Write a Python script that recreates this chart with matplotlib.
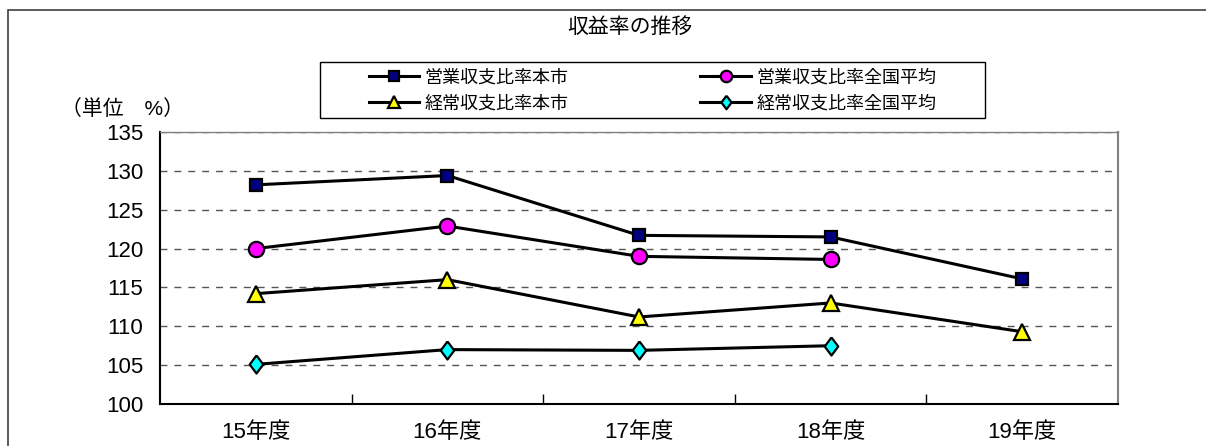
import numpy as np
import matplotlib
matplotlib.use('Agg')
import matplotlib.pyplot as plt
from matplotlib import font_manager
from matplotlib.patches import Rectangle

# data
years = ['15年度', '16年度', '17年度', '18年度', '19年度']
eigyo_city = [128.2, 129.4, 121.7, 121.5, 116.1]
eigyo_avg = [120.0, 122.9, 119.0, 118.6, np.nan]
keijo_city = [114.2, 116.0, 111.2, 113.0, 109.3]
keijo_avg = [105.1, 107.0, 106.9, 107.5, np.nan]
y_ticks = [100, 105, 110, 115, 120, 125, 130, 135]

names = {f.name for f in font_manager.fontManager.ttflist}
latin = 'Liberation Sans Narrow' if 'Liberation Sans Narrow' in names else 'Liberation Sans'
plt.rcParams['font.family'] = [latin, 'Noto Sans CJK JP', 'DejaVu Sans']

W, H = 1206, 446
fig = plt.figure(figsize=(W / 100, H / 100), dpi=100)

# outer chart border (right/bottom edges fall outside the picture)
fig.patches.append(Rectangle((8 / W, -0.1), 1.2, 1 - 10 / H + 0.1,
                             transform=fig.transFigure, fill=False,
                             ec='#404040', lw=1.2))

ax = fig.add_axes([160 / W, 1 - 404 / H, (1118 - 160) / W, (404 - 132) / H])
x = np.arange(len(years))

diamond = [(0, 1), (0.75, 0), (0, -1), (-0.75, 0), (0, 1)]
series = [
    ('営業収支比率本市', eigyo_city, 's', '#000080', 9),
    ('営業収支比率全国平均', eigyo_avg, 'o', '#FF00FF', 11),
    ('経常収支比率本市', keijo_city, '^', '#FFFF00', 12),
    ('経常収支比率全国平均', keijo_avg, diamond, '#00FFFF', 13),
]
handles = {}
for label, vals, mk, col, ms in series:
    h, = ax.plot(x, vals, color='black', lw=2.2, marker=mk, mfc=col,
                 mec='black', mew=1.6, ms=ms, label=label, zorder=3)
    handles[label] = h

ax.set_xlim(-0.5, len(years) - 0.5)
ax.set_ylim(100, 135)
ax.set_yticks(y_ticks)
ax.set_xticks(x)
ax.set_xticklabels(years)
ax.set_xticks(x[:-1] + 0.5, minor=True)
ax.yaxis.grid(True, ls=(0, (5, 5)), color='#555555', lw=1)
ax.set_axisbelow(True)

ax.tick_params(axis='y', length=0, pad=12, labelsize=16)
ax.tick_params(axis='x', which='major', length=0, pad=13, labelsize=16)
ax.tick_params(axis='x', which='minor', direction='in', length=7, width=1,
               color='black')

for s in ['left', 'bottom']:
    ax.spines[s].set_color('black')
    ax.spines[s].set_linewidth(1.5)
ax.spines['top'].set_color('#808080')
ax.spines['top'].set_linewidth(1)
ax.spines['right'].set_color('#808080')
ax.spines['right'].set_linewidth(1.5)

# title and unit label
fig.text(630 / W, 1 - 27 / H, '収益率の推移', ha='center', va='center',
         fontsize=15)
fig.text(61 / W, 1 - 109 / H, '（単位　%）', ha='left', va='center',
         fontsize=15)

# legend with its own box
fig.patches.append(Rectangle((320 / W, 1 - 118 / H), 665 / W, 56 / H,
                             transform=fig.transFigure, fill=False,
                             ec='black', lw=1))
order = ['営業収支比率本市', '経常収支比率本市',
         '営業収支比率全国平均', '経常収支比率全国平均']
fig.legend([handles[k] for k in order], order, loc='center',
           bbox_to_anchor=(652.5 / W, 1 - 91 / H), ncol=2, frameon=False,
           fontsize=13, handlelength=2.8, columnspacing=7.3,
           labelspacing=0.5, handletextpad=0.3, borderpad=0,
           markerscale=0.75)

fig.savefig('out.png', dpi=100)
